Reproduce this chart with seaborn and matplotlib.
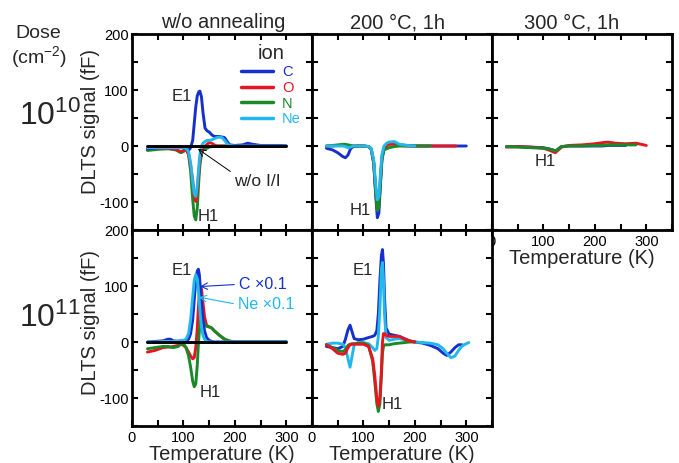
import numpy as np
import matplotlib
matplotlib.use("Agg")
import matplotlib.pyplot as plt
from matplotlib.lines import Line2D
import seaborn as sns

nan = np.nan

# ion colours
col_c = "#1530cc"
col_o = "#e8141e"
col_n = "#1a8a28"
col_ne = "#22b8ec"

# dose 1e10, w/o annealing
t_a = [30, 50, 70, 85, 95, 100, 105, 110, 114, 118, 121, 124, 127, 130, 132, 135, 138, 142,
       146, 150, 155, 160, 165, 170, 175, 180, 185, 190, 200, 215, 225, 235, 250, 270, 290, 300]
c_a = [-5, -3, -2, -1, -2, -3, -4, -8, -3, 10, 40, 70, 90, 97, 98, 88, 60, 32,
       27, 25, 20, 17, 17, 17, 16, 15, 8, 2, 1, 2, 5, 3, 1, 1, 1, 0]
o_a = [-5, -4, -4, -6, -10, -8, -5, -15, -35, -60, -88, -99, -80, -45, -25, -10, -3, 0,
       3, 6, 5, 2, 0, 0, 0, 0, 0, 0, 0, 0, 0, 0, 0, 0, 0, 0]
n_a = [-8, -6, -5, -7, -12, -10, -6, -15, -45, -95, -125, -132, -110, -60, -35, -15, -7, -5,
       -4, -2, -1, 0, 0, 0, 0, 0, 0, 0, 0, 0, 0, 0, 0, 0, 0, 0]
ne_a = [-3, -3, -3, -3, -3, -3, -4, -10, -30, -65, -85, -90, -70, -35, -15, 0, 5, 8,
        10, 10, 11, 13, 15, 16, 15, 10, 4, 1, 0, 0, 0, 0, 0, 0, 0, 0]

# dose 1e10, 200 C 1h
t_b = [28, 40, 50, 60, 65, 70, 75, 80, 90, 100, 110, 115, 120, 124, 127, 130, 133, 136,
       140, 145, 150, 160, 170, 185, 200, 230, 260, 280, 300]
c_b = [-4, -7, -12, -19, -21, -16, -5, -1, 0, 0, -1, -5, -30, -90, -128, -120, -70, -25,
       -5, 2, 4, 5, 2, 1, 0, 0, 0, 0, 0]
o_b = [0, 0, 1, 1, 1, 0, 0, 0, 0, 0, -1, -5, -30, -80, -110, -105, -60, -20,
       -4, 0, 3, 3, 1, 0, 0, 0, 0, 0, nan]
n_b = [0, 1, 2, 3, 3, 2, 1, 0, 0, 0, -1, -5, -30, -85, -115, -110, -65, -22,
       -7, -5, -3, -1, 0, 0, 0, 0, nan, nan, nan]
ne_b = [0, 0, 0, 0, -1, -3, -2, 0, 0, 0, -1, -4, -25, -70, -96, -90, -50, -15,
        0, 5, 7, 8, 3, 1, 0, nan, nan, nan, nan]

# dose 1e10, 300 C 1h
t_c = [28, 50, 75, 100, 110, 118, 123, 128, 135, 150, 175, 200, 215, 225, 240, 260, 280, 290, 300]
c_c = [-1, -1, -2, -3, -5, -7, -9, -6, -1, 0, 0, 0, 0, 1, 1, 1, nan, nan, nan]
o_c = [-2, -1, -2, -4, -7, -10, -12, -8, -2, 1, 2, 4, 6, 7, 5, 4, 5, 3, 1]
n_c = [-1, -2, -3, -4, -5, -7, -9, -6, -1, 0, 0, 1, 1, 2, 2, 2, 2, nan, nan]

# dose 1e11, w/o annealing (C and Ne x0.1)
t_d = [30, 45, 60, 70, 75, 80, 90, 95, 100, 105, 110, 114, 118, 121, 124, 127, 129, 131,
       133, 135, 138, 141, 145, 150, 155, 160, 170, 180, 190, 200, 220, 250, 280, 300]
c_d = [0, 1, 2, 5, 5, 2, 1, 1, 1, 2, 5, 15, 40, 75, 110, 127, 130, 120,
       95, 70, 40, 20, 8, 3, 1, 0, 0, 0, 0, 0, 0, 0, 0, 0]
o_d = [-18, -15, -10, -9, -9, -8, -6, -4, -6, -10, -18, -25, -30, -28, -10, 25, 60, 85,
       97, 95, 70, 45, 30, 27, 25, 20, 12, 5, 1, 0, 0, 0, 0, 0]
n_d = [-12, -10, -8, -8, -9, -10, -8, -3, -3, -10, -25, -45, -70, -80, -75, -40, -5, 20,
       40, 48, 40, 32, 28, 27, 25, 20, 12, 5, 2, 0, 0, 0, 0, 0]
ne_d = [0, 0, 1, 1, 1, 1, 2, 3, 3, 5, 15, 40, 80, 110, 120, 112, 95, 70,
        45, 28, 12, 5, 1, 0, 0, 0, 0, 0, 0, 0, 0, 0, 0, 0]

# dose 1e11, 200 C 1h
t_e = [28, 40, 50, 60, 65, 70, 74, 78, 82, 90, 100, 110, 118, 122, 126, 129, 132, 135, 137,
       139, 141, 144, 150, 160, 170, 180, 190, 200, 215, 230, 245, 255, 262, 270, 278, 285,
       292, 300, 305]
c_e = [-8, -10, -12, -8, 5, 22, 30, 18, 6, 4, 5, 8, 10, 12, 20, 50, 110, 155, 165,
       140, 80, 25, 14, 12, 10, 6, 2, 0, -2, -6, -12, -20, -24, -18, -10, -5,
       -5, nan, nan]
o_e = [-5, -12, -20, -22, -20, -10, -5, -4, -4, -4, -4, -8, -30, -60, -100, -115, -100, -50, 0,
       15, 15, 12, 10, 10, 10, 5, 2, 0, nan, nan, nan, nan, nan, nan, nan, nan,
       nan, nan, nan]
n_e = [-5, -10, -15, -17, -14, -6, -4, -3, -3, -2, -2, -6, -35, -70, -110, -124, -110, -60, -20,
       -8, -5, -5, -5, -3, -2, -1, 0, 0, nan, nan, nan, nan, nan, nan, nan, nan,
       nan, nan, nan]
ne_e = [-4, -2, -2, -4, -10, -30, -45, -25, -5, -1, -1, -3, -10, -15, -12, 10, 60, 130, 142,
        110, 50, 8, 3, 5, 6, 4, 1, 0, -1, -2, -5, -12, -20, -28, -25, -15,
        -7, -3, -1]

# reference without implantation
t_ref = [30, 300]
s_ref = [0, 0]

ions = ["C", "O", "N", "Ne"]
ion_colors = [col_c, col_o, col_n, col_ne]

sns.set_style("ticks")
plt.rcParams["font.family"] = ["Liberation Sans", "DejaVu Sans"]
plt.rcParams["mathtext.fontset"] = "custom"
plt.rcParams["mathtext.rm"] = "Liberation Sans"

W, H = 679, 463
fig = plt.figure(figsize=(W / 100, H / 100), dpi=100)


def make_ax(px_left, py_top):
    return fig.add_axes([px_left / W, 1 - (py_top + 196) / H, 180 / W, 196 / H])


def draw(ax, t, curves):
    t = np.array(t, float)
    for vals, col in curves:
        v = np.array(vals, float)
        m = ~np.isnan(v)
        sns.lineplot(x=t[m], y=v[m], ax=ax, color=col, lw=2.1, sort=False, estimator=None)


def style(ax, xlab, ylab):
    ax.set_xlim(0, 350)
    ax.set_ylim(-150, 200)
    ax.set_xticks(np.arange(0, 351, 50))
    ax.set_yticks(np.arange(-150, 201, 50))
    ax.set_xticklabels(["0", "", "100", "", "200", "", "300", ""] if xlab else [])
    ax.set_yticklabels(["", "-100", "", "0", "", "100", "", "200"] if ylab else [])
    ax.tick_params(direction="in", top=True, right=True, length=4, width=1.5,
                   labelsize=10.5, colors="k")
    ax.tick_params(axis="x", pad=3.5)
    ax.tick_params(axis="y", pad=2.5)
    for s in ax.spines.values():
        s.set_linewidth(2)
        s.set_color("k")
    ax.set_xlabel("")
    ax.set_ylabel("")
    if xlab:
        ax.set_xlabel("Temperature (K)", fontsize=14.5, labelpad=0)
    if ylab:
        ax.set_ylabel("DLTS signal (fF)", fontsize=14.5)


ax_a = make_ax(132, 34)
ax_b = make_ax(312, 34)
ax_c = make_ax(492, 34)
ax_d = make_ax(132, 230)
ax_e = make_ax(312, 230)

draw(ax_a, t_a, [(n_a, col_n), (o_a, col_o), (c_a, col_c), (ne_a, col_ne)])
draw(ax_a, t_ref, [(s_ref, "k")])
draw(ax_b, t_b, [(c_b, col_c), (o_b, col_o), (n_b, col_n), (ne_b, col_ne)])
draw(ax_c, t_c, [(c_c, col_c), (o_c, col_o), (n_c, col_n)])
draw(ax_d, t_d, [(o_d, col_o), (n_d, col_n), (c_d, col_c), (ne_d, col_ne)])
draw(ax_d, t_ref, [(s_ref, "k")])
draw(ax_e, t_e, [(c_e, col_c), (ne_e, col_ne), (n_e, col_n), (o_e, col_o)])

style(ax_a, False, True)
style(ax_b, False, False)
style(ax_c, True, False)
style(ax_d, True, True)
style(ax_e, True, False)
ax_a.yaxis.set_label_coords(-0.175, 0.556)
ax_d.yaxis.set_label_coords(-0.175, 0.53)

# legend
handles = [Line2D([], [], color=c, lw=2.5) for c in ion_colors]
leg = ax_a.legend(handles, ions, title="ion", loc="upper right", bbox_to_anchor=(0.945, 0.955),
                  frameon=False, fontsize=10.5, title_fontsize=14.5, handlelength=2.2,
                  handletextpad=0.6, labelspacing=0.12, borderpad=0.1, borderaxespad=0,
                  labelcolor=ion_colors)

# peak labels
txt = dict(ha="center", va="center", fontsize=12)
ax_a.text(97, 89, "E1", **txt)
ax_a.text(148, -126, "H1", **txt)
ax_a.annotate("w/o I/I", xy=(128, -5), xytext=(243, -63), ha="center", va="center", fontsize=12.5,
              arrowprops=dict(arrowstyle="->", color="k", lw=0.7, relpos=(0.0, 1.0), shrinkA=0,
                              shrinkB=0))
ax_b.text(93, -115, "H1", **txt)
ax_c.text(104, -27, "H1", **txt)
ax_d.text(97, 128, "E1", **txt)
ax_d.text(153, -90, "H1", **txt)
ax_d.annotate("C \u00d70.1", xy=(132, 99), xytext=(208, 103), ha="left", va="center",
              fontsize=11.5, color=col_c,
              arrowprops=dict(arrowstyle="->", color=col_c, lw=0.8, relpos=(0.0, 0.5),
                              shrinkA=1, shrinkB=0))
ax_d.annotate("Ne \u00d70.1", xy=(130, 80), xytext=(206, 67), ha="left", va="center",
              fontsize=11.5, color=col_ne,
              arrowprops=dict(arrowstyle="->", color=col_ne, lw=0.8, relpos=(0.0, 0.5),
                              shrinkA=1, shrinkB=0))
ax_e.text(99, 128, "E1", **txt)
ax_e.text(156, -112, "H1", **txt)

# column and row headers
fig.text(223 / W, 1 - 23 / H, "w/o annealing", ha="center", va="center", fontsize=14.5)
fig.text(397 / W, 1 - 23 / H, "200 \u00b0C, 1h", ha="center", va="center", fontsize=14.5)
fig.text(572 / W, 1 - 23 / H, "300 \u00b0C, 1h", ha="center", va="center", fontsize=14.5)
fig.text(38 / W, 1 - 33 / H, "Dose", ha="center", va="center", fontsize=14)
fig.text(39 / W, 1 - 58 / H, "(cm$^{-2}$)", ha="center", va="center", fontsize=14)
fig.text(50 / W, 1 - 116 / H, r"$\mathregular{10^{10}}$", ha="center", va="center", fontsize=23)
fig.text(50 / W, 1 - 318 / H, r"$\mathregular{10^{11}}$", ha="center", va="center", fontsize=23)

fig.savefig("out.png", dpi=100)
